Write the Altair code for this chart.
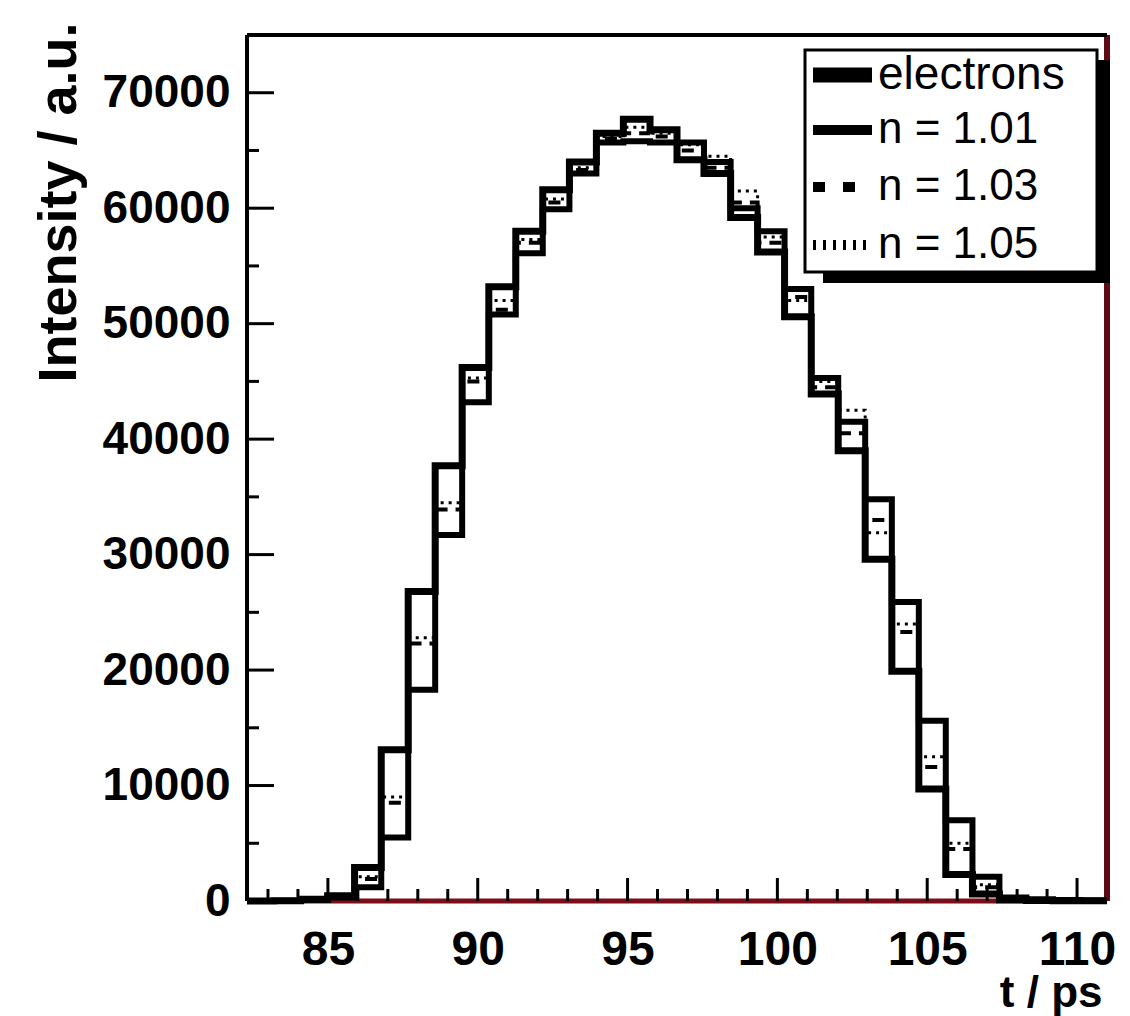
import altair as alt
import pandas as pd

# ---------------- data ----------------
bin_edges = [82.30, 83.20, 84.09, 84.99, 85.89, 86.78, 87.68, 88.58, 89.48, 90.37,
             91.27, 92.17, 93.06, 93.96, 94.86, 95.75, 96.65, 97.55, 98.44, 99.34,
             100.24, 101.13, 102.03, 102.93, 103.82, 104.72, 105.62, 106.51, 107.41,
             108.31, 109.20, 110.10, 111.00]

electrons = [0, 30, 150, 450, 2900, 13100, 26800, 37700, 46200, 53200, 58000, 61600,
             64000, 66500, 67700, 66800, 64200, 63000, 59200, 56200, 50600, 43900,
             39000, 29600, 19900, 9700, 2300, 600, 100, 50, 30, 20]
n_101 = [0, 20, 100, 300, 1200, 5500, 18300, 31700, 43200, 50800, 56100, 59900,
         63000, 65700, 65800, 65700, 65700, 64000, 60000, 58000, 53000, 45300,
         41500, 34800, 25900, 15600, 7000, 2100, 300, 150, 80, 40]
n_103 = [0, 25, 120, 350, 1900, 8500, 22300, 33900, 45000, 51200, 57000, 60500,
         63300, 66000, 66500, 66200, 65000, 63500, 60500, 57000, 52300, 44500,
         40500, 33000, 23300, 11600, 4500, 1200, 200, 100, 50, 30]
n_105 = [0, 30, 130, 400, 2100, 9000, 22800, 34500, 45300, 52000, 57300, 60800,
         63500, 66200, 67000, 66500, 65500, 64500, 61500, 57500, 52000, 45000,
         42500, 31900, 24000, 12500, 5000, 1400, 250, 120, 60, 30]

series_names = ["electrons", "n = 1.01", "n = 1.03", "n = 1.05"]
series_values = [electrons, n_101, n_103, n_105]

x_major = [85, 90, 95, 100, 105, 110]
x_minor = [83, 84, 86, 87, 88, 89, 91, 92, 93, 94, 96, 97, 98, 99,
           101, 102, 103, 104, 106, 107, 108, 109]
y_major = [0, 10000, 20000, 30000, 40000, 50000, 60000, 70000]
y_minor = [5000, 15000, 25000, 35000, 45000, 55000, 65000]

x_title = "t / ps"
y_title = "Intensity / a.u."

# ---------------- build table ----------------
rows = []
for name, vals in zip(series_names, series_values):
    for i, v in enumerate(vals):
        rows.append({"series": name, "t": bin_edges[i], "v": v, "idx": i})
    rows.append({"series": name, "t": bin_edges[-1], "v": vals[-1], "idx": len(vals)})
hist_df = pd.DataFrame(rows)

W, H = 860, 866
FONT = "Liberation Sans"

xs = alt.Scale(domain=[82.3, 111.0], nice=False, zero=False)
ys = alt.Scale(domain=[0, 75000], nice=False, zero=True)

xaxis = alt.Axis(values=x_major, format="d", labelFont=FONT, labelFontWeight="bold",
                 labelFontSize=48, labelColor="black", labelBaseline="alphabetic",
                 labelPadding=63, labelFlush=False, labelOverlap=False,
                 ticks=False, tickSize=0, domain=False, grid=False,
                 title=x_title, titleFont=FONT, titleFontWeight="bold", titleFontSize=44,
                 titleColor="black", titleAlign="right", titleBaseline="alphabetic",
                 titleX=855, titleY=105, titleAngle=0)
yaxis = alt.Axis(values=y_major, format="d", labelFont=FONT, labelFontWeight="bold",
                 labelFontSize=46, labelColor="black", labelPadding=17,
                 labelFlush=False, labelOverlap=False,
                 ticks=False, tickSize=0, domain=False, grid=False,
                 title=y_title, titleFont=FONT, titleFontWeight="bold", titleFontSize=54,
                 titleColor="black", titleAngle=270, titleAlign="right",
                 titleBaseline="alphabetic", titleX=-172, titleY=-13)

X = alt.X("t:Q", scale=xs, axis=xaxis)
Y = alt.Y("v:Q", scale=ys, axis=yaxis)

one = pd.DataFrame({"a": [0]})

# ---------------- frame ----------------
frame_left = alt.Chart(one).mark_rule(color="black", strokeWidth=4).encode(
    x=alt.value(0), y=alt.value(0), y2=alt.value(H))
frame_top = alt.Chart(one).mark_rule(color="black", strokeWidth=4).encode(
    x=alt.value(0), x2=alt.value(W), y=alt.value(0))
frame_bottom = alt.Chart(one).mark_rule(color="#7a0f1a", strokeWidth=5).encode(
    x=alt.value(0), x2=alt.value(W), y=alt.value(H))
frame_right = alt.Chart(one).mark_rule(color="#5e0a14", strokeWidth=6).encode(
    x=alt.value(W), y=alt.value(0), y2=alt.value(H))

# ---------------- ticks (inside) ----------------
xt_major = alt.Chart(pd.DataFrame({"t": x_major})).mark_rule(color="black", strokeWidth=3).encode(
    x=X, y=alt.value(H), y2=alt.value(H - 23))
xt_minor = alt.Chart(pd.DataFrame({"t": x_minor})).mark_rule(color="black", strokeWidth=3).encode(
    x=X, y=alt.value(H), y2=alt.value(H - 12))
yt_major = alt.Chart(pd.DataFrame({"v": y_major})).mark_rule(color="black", strokeWidth=3).encode(
    y=Y, x=alt.value(0), x2=alt.value(27))
yt_minor = alt.Chart(pd.DataFrame({"v": y_minor})).mark_rule(color="black", strokeWidth=3).encode(
    y=Y, x=alt.value(0), x2=alt.value(12))

# ---------------- histograms ----------------
def hist_layer(name, width, dash=None):
    mk = dict(color="black", strokeWidth=width, interpolate="step-after",
              strokeJoin="miter", strokeCap="butt")
    if dash:
        mk["strokeDash"] = dash
    return (alt.Chart(hist_df)
            .transform_filter(alt.datum.series == name)
            .mark_line(**mk)
            .encode(x=X, y=Y, order=alt.Order("idx:Q")))

h105 = hist_layer("n = 1.05", 3, [3, 5])
h103 = hist_layer("n = 1.03", 4, [12, 8])
h101 = hist_layer("n = 1.01", 6)
hel = hist_layer("electrons", 7)

# ---------------- legend ----------------
leg_shadow = alt.Chart(one).mark_rect(color="black").encode(
    x=alt.value(576), x2=alt.value(863), y=alt.value(25), y2=alt.value(248))
leg_box = alt.Chart(one).mark_rect(fill="white", stroke="black", strokeWidth=3).encode(
    x=alt.value(558), x2=alt.value(850), y=alt.value(15), y2=alt.value(237))

row_y = [40, 95, 152, 210]
sym_el = alt.Chart(one).mark_rule(color="black", strokeWidth=15).encode(
    x=alt.value(566), x2=alt.value(625), y=alt.value(row_y[0]))
sym_101 = alt.Chart(one).mark_rule(color="black", strokeWidth=10).encode(
    x=alt.value(566), x2=alt.value(625), y=alt.value(row_y[1]))
sym_103 = alt.Chart(one).mark_rule(color="black", strokeWidth=10, strokeDash=[12, 18]).encode(
    x=alt.value(566), x2=alt.value(625), y=alt.value(row_y[2]))
sym_105 = alt.Chart(one).mark_rule(color="black", strokeWidth=10, strokeDash=[3, 7]).encode(
    x=alt.value(566), x2=alt.value(625), y=alt.value(row_y[3]))

legend_sizes = [46, 44, 44, 44]
legend_texts = []
for name, ry, fs in zip(series_names, row_y, legend_sizes):
    legend_texts.append(
        alt.Chart(one).mark_text(font=FONT, fontSize=fs, color="black", align="left",
                                 baseline="middle").encode(
            x=alt.value(631), y=alt.value(ry), text=alt.value(name)))

chart = alt.layer(
    frame_bottom, frame_right, frame_left, frame_top,
    xt_major, xt_minor, yt_major, yt_minor,
    h105, h103, h101, hel,
    leg_shadow, leg_box, sym_el, sym_101, sym_103, sym_105, *legend_texts
).properties(
    width=W, height=H,
    padding={"left": 239, "top": 27, "right": 12, "bottom": 115},
    autosize=alt.AutoSizeParams(type="none"),
    background="white",
).configure_view(stroke=None)

chart.save("out.html", embed_options={"renderer": "svg", "actions": False})
